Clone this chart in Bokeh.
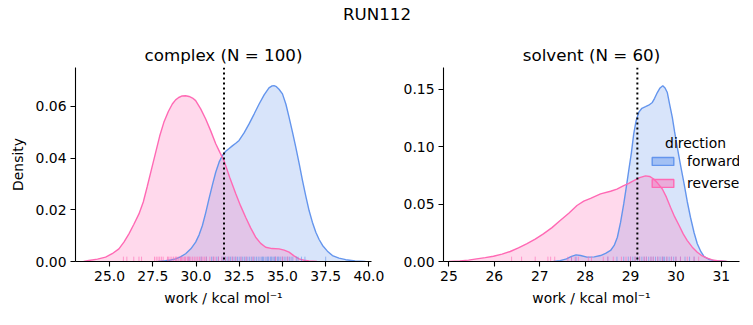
from bokeh.plotting import figure
from bokeh.models import (Range1d, Span, Legend, LegendItem, Label, ColumnDataSource,
                          FixedTicker, PrintfTickFormatter)
from bokeh.layouts import column, row
from bokeh.embed import file_html
from bokeh.resources import INLINE
from bokeh.core.properties import value

FONT = "DejaVu Sans"
BLUE = "#6495ED"
PINK = "#FF69B4"

suptitle = "RUN112"
panel_titles = ["complex (N = 100)", "solvent (N = 60)"]
xlabel = "work / kcal mol\u207b\u00b9"
ylabel = "Density"
legend_title = "direction"
directions = ["forward", "reverse"]

# ---- complex panel: KDE curves ----
cplx_fwd_x = [27.8, 28.24, 28.53, 28.82, 29.1, 29.4, 29.7, 29.98, 30.18, 30.37, 30.56, 30.75,
              30.95, 31.14, 31.34, 31.53, 31.72, 31.9, 32.1, 32.3, 32.49, 32.78, 33.07, 33.36,
              33.65, 33.94, 34.22, 34.4, 34.51, 34.65, 34.8, 35.0, 35.2, 35.38, 35.58, 35.77,
              35.97, 36.16, 36.35, 36.54, 36.73, 36.93, 37.12, 37.32, 37.6, 37.89, 38.27,
              38.66, 39.2, 39.8]
cplx_fwd_y = [0.0, 0.0003, 0.0006, 0.001, 0.0018, 0.003, 0.0049, 0.0075, 0.0103, 0.0139,
              0.0188, 0.0242, 0.0296, 0.0345, 0.0385, 0.041, 0.0426, 0.0436, 0.0447, 0.0457,
              0.0468, 0.0497, 0.0532, 0.057, 0.0609, 0.0644, 0.0671, 0.0679, 0.068, 0.0676,
              0.0666, 0.0648, 0.0608, 0.0558, 0.05, 0.0442, 0.0377, 0.0313, 0.0253, 0.0197,
              0.0152, 0.0113, 0.0085, 0.0062, 0.004, 0.0023, 0.0013, 0.0007, 0.0002, 0.0]
cplx_rev_x = [23.5, 23.8, 24.3, 24.77, 25.15, 25.54, 25.83, 26.12, 26.4, 26.7, 26.95, 27.18,
              27.42, 27.66, 27.9, 28.14, 28.4, 28.63, 28.82, 29.0, 29.2, 29.4, 29.6, 29.8,
              29.98, 30.27, 30.56, 30.85, 31.14, 31.38, 31.62, 31.95, 32.3, 32.58, 32.87,
              33.16, 33.45, 33.74, 34.03, 34.4, 34.8, 35.1, 35.38, 35.67, 35.96, 36.25,
              36.54, 37.0]
cplx_rev_y = [0.0, 0.0004, 0.0009, 0.0017, 0.003, 0.0049, 0.0075, 0.0107, 0.0143, 0.0184,
              0.023, 0.029, 0.0355, 0.042, 0.0485, 0.0538, 0.058, 0.0609, 0.0625, 0.0634,
              0.064, 0.0641, 0.0638, 0.0632, 0.0622, 0.059, 0.0551, 0.0505, 0.0455, 0.0422,
              0.039, 0.0325, 0.0262, 0.0215, 0.0171, 0.013, 0.0094, 0.007, 0.0055, 0.005,
              0.0049, 0.0044, 0.0036, 0.0022, 0.001, 0.0005, 0.0002, 0.0]
cplx_fwd_rug = [29.6, 30.3, 30.6, 30.9, 31.0, 31.2, 31.3, 31.5, 31.6, 31.7, 31.8, 31.9, 32.0,
                32.1, 32.2, 32.3, 32.4, 32.5, 32.6, 32.7, 32.8, 32.9, 33.0, 33.1, 33.2, 33.3,
                33.4, 33.5, 33.6, 33.7, 33.8, 33.85, 33.9, 34.0, 34.1, 34.15, 34.2, 34.3, 34.35,
                34.4, 34.5, 34.55, 34.6, 34.7, 34.75, 34.8, 34.9, 35.0, 35.1, 35.2, 35.3, 35.4,
                35.5, 35.6, 35.8, 35.9, 36.1, 36.3, 37.5]
cplx_rev_rug = [25.8, 26.0, 26.4, 26.7, 26.85, 27.6, 27.7, 27.8, 27.9, 28.0, 28.1, 28.35, 28.4,
                28.5, 28.6, 28.7, 28.8, 28.85, 28.9, 29.0, 29.1, 29.15, 29.2, 29.3, 29.35, 29.4,
                29.5, 29.55, 29.6, 29.7, 29.8, 29.9, 30.0, 30.1, 30.2, 30.3, 30.4, 30.5, 30.6,
                30.8, 31.0, 31.1, 31.3, 31.5, 31.7, 31.9, 32.1, 32.3, 32.6, 32.9, 33.3, 34.6,
                35.0, 35.3]
cplx_vline = 31.62

# ---- solvent panel ----
solv_fwd_x = [27.3, 27.45, 27.59, 27.7, 27.8, 27.9, 28.04, 28.2, 28.34, 28.45, 28.56, 28.64,
              28.71, 28.78, 28.85, 28.9, 28.96, 29.02, 29.07, 29.12, 29.18, 29.25, 29.33,
              29.4, 29.48, 29.53, 29.59, 29.65, 29.71, 29.76, 29.81, 29.86, 29.92, 29.97,
              30.03, 30.1, 30.18, 30.25, 30.32, 30.4, 30.47, 30.55, 30.62, 30.72, 30.84, 31.1]
solv_fwd_y = [0.0, 0.0008, 0.0023, 0.0045, 0.0058, 0.0052, 0.0038, 0.004, 0.0052, 0.007,
              0.0096, 0.014, 0.0211, 0.034, 0.0501, 0.063, 0.079, 0.095, 0.111, 0.122, 0.1297,
              0.1333, 0.1347, 0.136, 0.1384, 0.142, 0.147, 0.151, 0.1529, 0.151, 0.147, 0.137,
              0.1254, 0.113, 0.0993, 0.084, 0.0675, 0.052, 0.0385, 0.025, 0.0154, 0.0085,
              0.0043, 0.002, 0.0008, 0.0]
solv_rev_x = [25.0, 25.24, 25.43, 25.61, 25.8, 25.98, 26.17, 26.35, 26.53, 26.71, 26.9, 27.08,
              27.27, 27.45, 27.64, 27.82, 27.97, 28.12, 28.34, 28.56, 28.7, 28.85, 28.96,
              29.07, 29.2, 29.33, 29.42, 29.51, 29.6, 29.7, 29.79, 29.88, 29.97, 30.07, 30.16,
              30.25, 30.36, 30.47, 30.58, 30.69, 30.8, 30.91, 31.13]
solv_rev_y = [0.0, 0.0005, 0.0012, 0.0023, 0.0034, 0.0046, 0.0064, 0.0087, 0.0118, 0.0154,
              0.0195, 0.024, 0.0295, 0.0356, 0.042, 0.0487, 0.0525, 0.055, 0.0588, 0.0611,
              0.063, 0.066, 0.068, 0.0704, 0.073, 0.0745, 0.074, 0.0718, 0.068, 0.0631, 0.056,
              0.0472, 0.039, 0.0313, 0.024, 0.0182, 0.0125, 0.0081, 0.0048, 0.0029, 0.0014,
              0.0006, 0.0]
solv_fwd_rug = [27.7, 27.8, 28.5, 28.7, 28.85, 28.95, 29.0, 29.05, 29.1, 29.15, 29.2, 29.25,
                29.3, 29.35, 29.4, 29.45, 29.5, 29.55, 29.6, 29.65, 29.7, 29.72, 29.75, 29.8,
                29.85, 29.9, 29.95, 30.0, 30.1, 30.2, 30.3, 30.4]
solv_rev_rug = [26.38, 26.6, 26.9, 27.18, 27.24, 27.33, 27.62, 27.7, 27.78, 27.85, 28.07, 28.14,
                28.4, 28.5, 28.62, 28.8, 28.9, 29.0, 29.1, 29.2, 29.3, 29.35, 29.45, 29.5, 29.6,
                29.7, 29.8, 29.9, 30.0, 30.1, 30.25, 30.4, 30.5]
solv_vline = 29.15

cplx_xticks = [25.0, 27.5, 30.0, 32.5, 35.0, 37.5, 40.0]
cplx_yticks = [0.0, 0.02, 0.04, 0.06]
solv_xticks = [25, 26, 27, 28, 29, 30, 31]
solv_yticks = [0.0, 0.05, 0.10, 0.15]

TICK_FS = "13.9px"
TITLE_FS = "16.7px"
FRAME_W, FRAME_H = 296, 194
TOP_H = 67
PANEL_H = 325 - TOP_H


def style_axes(p, xfmt, xticks, yticks, show_ylabel):
    p.xaxis.ticker = FixedTicker(ticks=xticks)
    p.yaxis.ticker = FixedTicker(ticks=yticks)
    p.xaxis.formatter = PrintfTickFormatter(format=xfmt)
    p.yaxis.formatter = PrintfTickFormatter(format="%.2f")
    for ax in (p.xaxis[0], p.yaxis[0]):
        ax.axis_line_color = "black"
        ax.axis_line_width = 1.1
        ax.major_tick_line_color = "black"
        ax.major_tick_line_width = 1.1
        ax.major_tick_out = 5
        ax.major_tick_in = 0
        ax.minor_tick_line_color = None
        ax.major_label_standoff = 4
        ax.major_label_text_font = FONT
        ax.major_label_text_font_size = TICK_FS
        ax.major_label_text_color = "black"
        ax.axis_label_text_font = FONT
        ax.axis_label_text_font_size = TICK_FS
        ax.axis_label_text_font_style = "normal"
        ax.axis_label_text_color = "black"
    p.xaxis.axis_label = xlabel
    p.xaxis.axis_label_standoff = 6
    if show_ylabel:
        p.yaxis.axis_label = ylabel
        p.yaxis.axis_label_standoff = 7
    p.xgrid.visible = False
    p.ygrid.visible = False
    p.outline_line_color = None


def make_panel(width, left, right, xr, yr, fx, fy, rx, ry, frug, rrug, vline,
               xfmt, xticks, yticks, show_ylabel):
    p = figure(width=width, height=PANEL_H, x_range=Range1d(*xr), y_range=Range1d(*yr),
               output_backend="svg", toolbar_location=None,
               min_border_left=left, min_border_right=right,
               min_border_top=0, min_border_bottom=PANEL_H - FRAME_H)
    p.background_fill_color = "white"
    p.border_fill_color = "white"
    p.varea(x=fx, y1=[0] * len(fx), y2=fy, fill_color=BLUE, fill_alpha=0.25)
    p.varea(x=rx, y1=[0] * len(rx), y2=ry, fill_color=PINK, fill_alpha=0.25)
    p.line(fx, fy, line_color=BLUE, line_width=1.4)
    p.line(rx, ry, line_color=PINK, line_width=1.4)
    rug_h = 0.025 * (yr[1] - yr[0])
    p.segment(x0=frug, y0=[0] * len(frug), x1=frug, y1=[rug_h] * len(frug),
              line_color=BLUE, line_alpha=0.6, line_width=1)
    p.segment(x0=rrug, y0=[0] * len(rrug), x1=rrug, y1=[rug_h] * len(rrug),
              line_color=PINK, line_alpha=0.6, line_width=1)
    p.add_layout(Span(location=vline, dimension="height", line_color="black",
                      line_width=2, line_dash="2 3"))
    style_axes(p, xfmt, xticks, yticks, show_ylabel)
    return p


p1 = make_panel(400, 75, 29, (23.03, 40.15), (0, 0.0750),
                cplx_fwd_x, cplx_fwd_y, cplx_rev_x, cplx_rev_y,
                cplx_fwd_rug, cplx_rev_rug, cplx_vline, "%.1f",
                cplx_xticks, cplx_yticks, True)
p2 = make_panel(353, 43, 14, (24.88, 31.40), (0, 0.1688),
                solv_fwd_x, solv_fwd_y, solv_rev_x, solv_rev_y,
                solv_fwd_rug, solv_rev_rug, solv_vline, "%d",
                solv_xticks, solv_yticks, False)

# legend on the solvent panel (proxy renderers with an undrawable NaN box)
nan = float("nan")
proxy = ColumnDataSource(data=dict(left=[nan], right=[nan], top=[nan], bottom=[nan]))
lf = p2.quad(left="left", right="right", top="top", bottom="bottom", source=proxy,
             fill_color=BLUE, fill_alpha=0.45, line_color=BLUE, line_width=1.4)
lr = p2.quad(left="left", right="right", top="top", bottom="bottom", source=proxy,
             fill_color=PINK, fill_alpha=0.45, line_color=PINK, line_width=1.4)
legend = Legend(items=[LegendItem(label=directions[0], renderers=[lf]),
                       LegendItem(label=directions[1], renderers=[lr])],
                location=(206, 68), glyph_width=27, glyph_height=10, label_standoff=11,
                spacing=2, padding=0, margin=0, label_height=20,
                label_text_font=FONT, label_text_font_size=TICK_FS,
                label_text_color="black",
                background_fill_alpha=0, border_line_alpha=0)
p2.add_layout(legend, "center")
p2.add_layout(Label(x=252, y=119, x_units="screen", y_units="screen", text=legend_title,
                    text_font=FONT, text_font_size=TICK_FS, text_align="center",
                    text_baseline="middle", text_color="black"))

# top strip with the titles
top = figure(width=753, height=TOP_H, x_range=Range1d(0, 753), y_range=Range1d(TOP_H, 0),
             output_backend="svg", toolbar_location=None,
             min_border_left=0, min_border_right=0, min_border_top=0, min_border_bottom=0)
top.axis.visible = False
top.grid.visible = False
top.outline_line_color = None
top.text(x=[376.5], y=[13], text=[suptitle], text_font=value(FONT),
         text_font_size=TITLE_FS, text_align="center", text_baseline="middle",
         text_color="black")
centers = [75 + FRAME_W / 2, 400 + 43 + FRAME_W / 2]
top.text(x=centers, y=[54, 54], text=panel_titles, text_font=value(FONT),
         text_font_size=TITLE_FS, text_align="center", text_baseline="middle",
         text_color="black")

layout = column(top, row(p1, p2, spacing=0), spacing=0)
open("out.html", "w").write(file_html(layout, INLINE))
